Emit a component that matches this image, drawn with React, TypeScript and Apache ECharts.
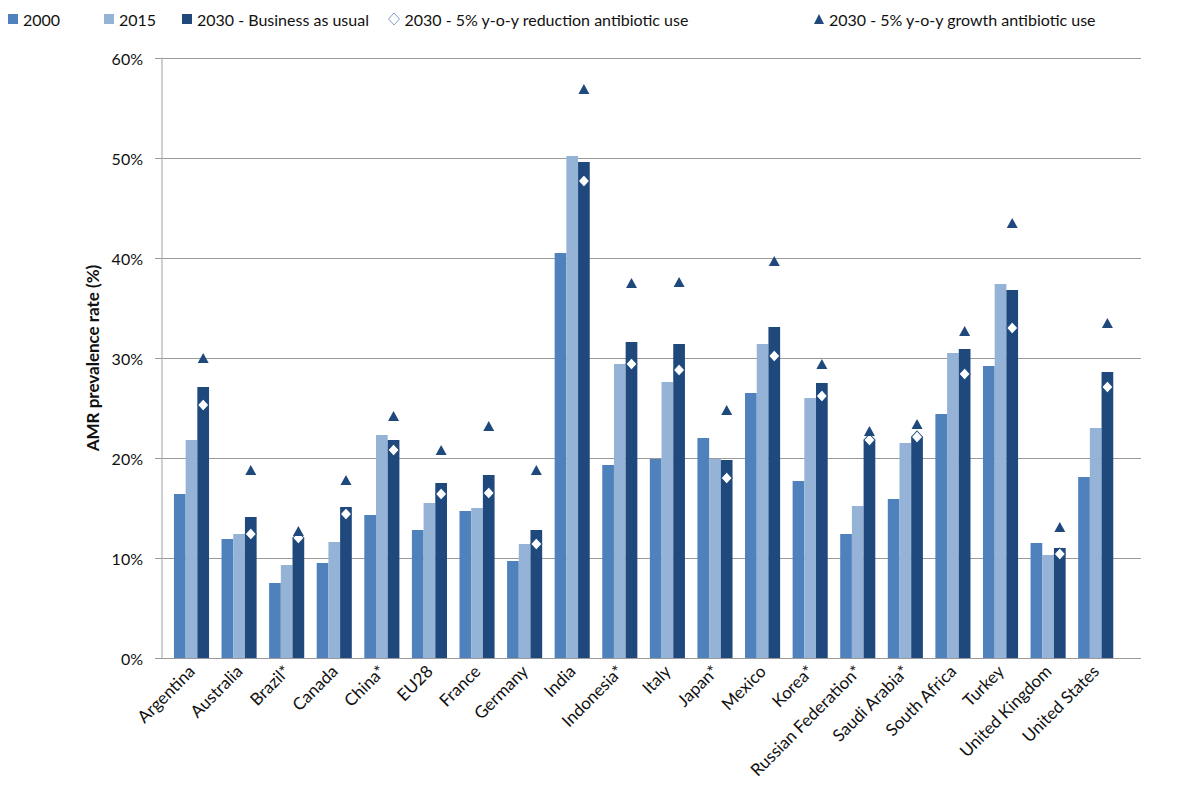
import React, { useEffect, useRef } from 'react';
import * as echarts from 'echarts';

const categories = ['Argentina', 'Australia', 'Brazil*', 'Canada', 'China*', 'EU28', 'France', 'Germany', 'India', 'Indonesia*', 'Italy', 'Japan*', 'Mexico', 'Korea*', 'Russian Federation*', 'Saudi Arabia*', 'South Africa', 'Turkey', 'United Kingdom', 'United States'];
const y2000 = [16.4, 11.9, 7.5, 9.5, 14.3, 12.8, 14.7, 9.7, 40.5, 19.3, 19.9, 22.0, 26.5, 17.7, 12.4, 15.9, 24.4, 29.2, 11.5, 18.1];
const y2015 = [21.8, 12.4, 9.3, 11.6, 22.3, 15.5, 15.0, 11.4, 50.2, 29.4, 27.6, 19.9, 31.4, 26.0, 15.2, 21.5, 30.5, 37.4, 10.3, 23.0];
const y2030 = [27.1, 14.1, 12.0, 15.1, 21.8, 17.5, 18.3, 12.8, 49.6, 31.6, 31.4, 19.8, 33.1, 27.5, 21.8, 22.1, 30.9, 36.8, 11.0, 28.6];
const reduction = [25.3, 12.4, 12.0, 14.4, 20.8, 16.4, 16.5, 11.4, 47.7, 29.4, 28.8, 18.0, 30.2, 26.2, 21.8, 22.1, 28.4, 33.0, 10.4, 27.1];
const growth = [30.0, 18.8, 12.7, 17.8, 24.2, 20.8, 23.2, 18.8, 56.9, 37.5, 37.6, 24.8, 39.7, 29.4, 22.7, 23.4, 32.7, 43.5, 13.1, 33.5];
const seriesNames = ['2000', '2015', '2030 - Business as usual', '2030 - 5% y-o-y reduction antibiotic use', '2030 - 5% y-o-y growth antibiotic use'];
const yAxisTitle = 'AMR prevalence rate (%)';

const FONT = 'Lato, "Open Sans", sans-serif';
const C2000 = '#4F81BD';
const C2015 = '#95B3D7';
const C2030 = '#1F497D';

export default function App() {
  const ref = useRef<HTMLDivElement>(null);
  useEffect(() => {
    if (!ref.current) return;
    const chart = echarts.init(ref.current, undefined, { renderer: 'svg' });
    const legendLefts = [8, 104, 182, 388, 814];
    const legendIcons = ['rect', 'rect', 'rect', 'diamond', 'triangle'];
    const legends = seriesNames.map((n, i) => ({
      left: legendLefts[i],
      top: 11,
      padding: 0,
      itemWidth: i === 3 ? 11 : 10,
      itemHeight: i === 3 ? 12 : 10,
      textStyle: { fontFamily: FONT, fontSize: 16, color: '#111' },
      selectedMode: false,
      data: [
        i === 3
          ? { name: n, icon: 'diamond', itemStyle: { color: '#fff', borderColor: '#7EA1CE', borderWidth: 1 } }
          : { name: n, icon: legendIcons[i] },
      ],
    }));
    const barW = 11.7;
    chart.setOption({
      animation: false,
      legend: legends,
      grid: [
        { left: 162, right: 38, top: 58, bottom: 129 },
        { left: 167.7, right: 59.5, top: 58, bottom: 129 },
      ],
      xAxis: [
        { gridIndex: 0, type: 'value', show: false, min: 0, max: 1 },
        {
          gridIndex: 1,
          type: 'category',
          data: categories,
          axisLine: { show: false },
          axisTick: { show: false },
          axisLabel: { rotate: 45, fontFamily: FONT, fontSize: 17, color: '#111', margin: 10, interval: 0 },
        },
      ],
      yAxis: [
        {
          gridIndex: 0,
          type: 'value',
          min: 0,
          max: 60,
          interval: 10,
          name: yAxisTitle,
          nameLocation: 'middle',
          nameGap: 57,
          nameTextStyle: { fontFamily: FONT, fontSize: 17, fontWeight: 'bold', color: '#111' },
          axisLine: { show: true, lineStyle: { color: '#BFBFBF', width: 1.5 } },
          axisTick: { show: true, length: 7, lineStyle: { color: '#9A9A9A' } },
          splitLine: { show: true, lineStyle: { color: '#9A9A9A', width: 1 } },
          axisLabel: { formatter: '{value}%', fontFamily: FONT, fontSize: 16, color: '#111', margin: 19 },
        },
        { gridIndex: 1, type: 'value', min: 0, max: 60, show: false },
      ],
      series: [
        { name: seriesNames[0], type: 'bar', xAxisIndex: 1, yAxisIndex: 1, data: y2000, barWidth: barW, barGap: '0%', itemStyle: { color: C2000 } },
        { name: seriesNames[1], type: 'bar', xAxisIndex: 1, yAxisIndex: 1, data: y2015, barWidth: barW, barGap: '0%', itemStyle: { color: C2015 } },
        { name: seriesNames[2], type: 'bar', xAxisIndex: 1, yAxisIndex: 1, data: y2030, barWidth: barW, barGap: '0%', itemStyle: { color: C2030 } },
        {
          name: seriesNames[3], type: 'scatter', xAxisIndex: 1, yAxisIndex: 1, data: reduction,
          symbol: 'diamond', symbolSize: [11, 12], symbolOffset: [barW, 0], z: 5,
          itemStyle: { color: '#fff', borderColor: '#1F497D', borderWidth: 1, opacity: 1 },
        },
        {
          name: seriesNames[4], type: 'scatter', xAxisIndex: 1, yAxisIndex: 1, data: growth,
          symbol: 'triangle', symbolSize: [11, 10], symbolOffset: [barW, 0], z: 5,
          itemStyle: { color: '#1F497D', opacity: 1 },
        },
      ],
    });
    return () => chart.dispose();
  }, []);
  return <div ref={ref} style={{ position: 'absolute', left: 0, top: 0, width: 1179, height: 787 }} />;
}
